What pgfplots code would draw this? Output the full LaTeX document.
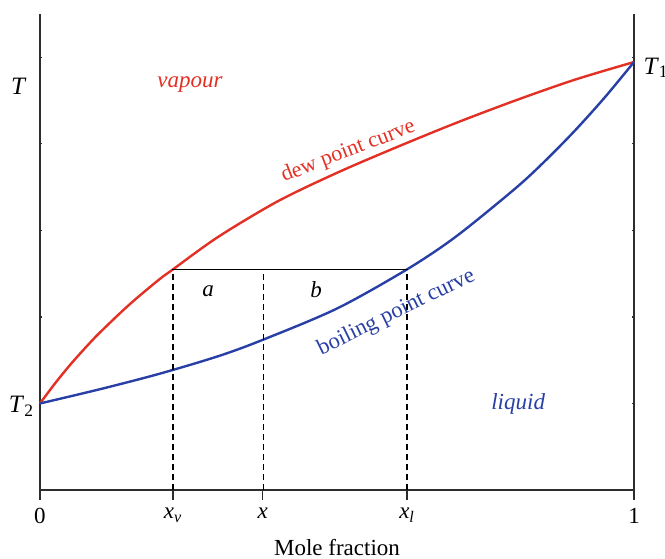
\documentclass[border=0pt]{standalone}
\usepackage{fontspec}
\setmainfont{Liberation Serif}
\usepackage{pgfplots}
\pgfplotsset{compat=1.18}
\definecolor{dewred}{RGB}{226,48,36}
\definecolor{boilblue}{RGB}{40,64,165}
\definecolor{axgray}{RGB}{45,45,45}
\begin{document}
\begin{tikzpicture}
\useasboundingbox (-20pt,-34pt) rectangle (312.5pt,245pt);
% y ticks only
\begin{axis}[
  at={(0,0)}, anchor=south west,
  scale only axis, width=297pt, height=238pt,
  xmin=0, xmax=1, ymin=0, ymax=5.5,
  axis x line=none, axis y line*=box,
  axis line style={axgray, line width=0.8pt},
  xtick=\empty,
  ytick={1,2,3,4,5}, yticklabels={},
  ytick align=inside, major tick length=1.2pt,
  y tick style={axgray, line width=0.6pt},
]
\end{axis}
\begin{axis}[
  at={(0,0)}, anchor=south west,
  scale only axis, width=297pt, height=238pt,
  xmin=0, xmax=1, ymin=0, ymax=5.5,
  axis x line*=bottom, axis y line=none,
  axis line style={axgray, line width=0.8pt},
  xtick={0,0.224,0.375,0.618,1},
  xticklabels={0, \textit{x}\textsubscript{\textit{v}}, \textit{x}, \textit{x}\textsubscript{\textit{l}}, 1},
  ytick=\empty,
  xtick align=outside,
  major tick length=5pt,
  x tick style={axgray, line width=0.7pt},
  tick label style={font=\fontsize{11.5}{13}\selectfont},
  xticklabel style={yshift=-0.5pt},
  xlabel={Mole fraction},
  xlabel style={at={(axis description cs:0.5,0)}, anchor=base, yshift=-32.5pt, font=\fontsize{11.5}{13}\selectfont},
  clip=false,
]
\addplot[dewred, line width=1.2pt, smooth] coordinates {
(0,1.00) (0.025,1.229) (0.05,1.440) (0.075,1.633) (0.1,1.814) (0.15,2.140) (0.2,2.429) (0.224,2.55)
(0.3,2.925) (0.4,3.335) (0.5,3.665) (0.6,3.96) (0.7,4.24) (0.8,4.50) (0.9,4.74) (1,4.945)
};
\addplot[boilblue, line width=1.2pt, smooth] coordinates {
(0,1.00) (0.1,1.163) (0.2,1.341) (0.3,1.546) (0.375,1.735) (0.5,2.097) (0.618,2.55)
(0.7,2.927) (0.8,3.483) (0.85,3.80) (0.9,4.149) (0.95,4.53) (1,4.945)
};
\addplot[black, line width=0.6pt] coordinates {(0.224,2.55) (0.618,2.55)};
\addplot[black, line width=0.75pt, dash pattern=on 3pt off 2pt] coordinates {(0.224,0) (0.224,2.55)};
\addplot[black, line width=0.75pt, dash pattern=on 3pt off 2pt] coordinates {(0.3765,0) (0.3765,2.55)};
\addplot[black, line width=0.75pt, dash pattern=on 3pt off 2pt] coordinates {(0.618,0) (0.618,2.55)};
\node[font=\fontsize{12.5}{14}\selectfont\itshape] at (axis cs:-0.037,4.67) {T};
\node[font=\fontsize{12.5}{14}\selectfont, anchor=east, inner sep=1pt] at (axis cs:-0.006,0.97) {\textit{T}\textsubscript{2}};
\node[font=\fontsize{12.5}{14}\selectfont, anchor=west, inner sep=1pt] at (axis cs:1.012,4.88) {\textit{T}\textsubscript{1}};
\node[font=\fontsize{11.5}{13}\selectfont\itshape, text=dewred] at (axis cs:0.2525,4.68) {vapour};
\node[font=\fontsize{11.5}{13}\selectfont\itshape, text=boilblue] at (axis cs:0.805,0.99) {liquid};
\node[font=\fontsize{11.5}{13}\selectfont\itshape] at (axis cs:0.283,2.30) {a};
\node[font=\fontsize{11.5}{13}\selectfont\itshape] at (axis cs:0.465,2.32) {b};
\node[font=\fontsize{11}{13}\selectfont, text=dewred, rotate=21] at (axis cs:0.519,3.91) {dew point curve};
\node[font=\fontsize{11.3}{13}\selectfont, text=boilblue, rotate=26] at (axis cs:0.600,2.05) {boiling point curve};
\end{axis}
\end{tikzpicture}
\end{document}
